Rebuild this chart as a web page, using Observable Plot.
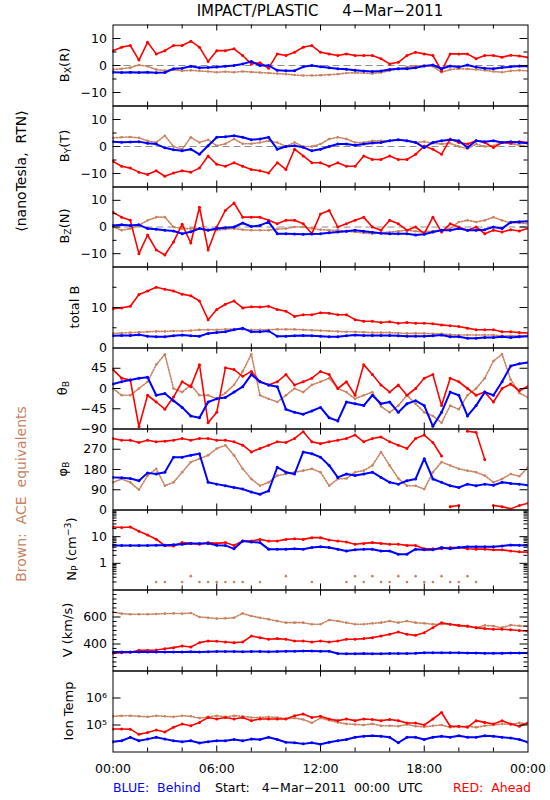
<!DOCTYPE html>
<html><head><meta charset="utf-8">
<script src="https://cdn.jsdelivr.net/npm/d3@7"></script>
<script src="https://cdn.jsdelivr.net/npm/@observablehq/plot@0.6"></script>
<style>
body{margin:0;background:#fff;}
#c{position:relative;width:550px;height:800px;font-family:"DejaVu Sans",sans-serif;color:#000;overflow:hidden;background:#fff}
#c svg{position:absolute;left:0;}
.t{position:absolute;white-space:pre;line-height:1;}
.rot{position:absolute;white-space:pre;line-height:1;transform:translate(-50%,-50%) rotate(-90deg);}
sub{font-size:0.72em;vertical-align:-0.3em;line-height:0}
sup{font-size:0.72em;vertical-align:0.45em;line-height:0}
</style></head><body><div id="c"></div>
<script>
// ---------- data (hours since 4-Mar-2011 00:00 UTC) ----------
const hours = [0,0.5,1,1.5,2,2.5,3,3.5,4,4.5,5,5.5,6,6.5,7,7.5,8,8.5,9,9.5,10,10.5,11,11.5,12,12.5,13,13.5,14,14.5,15,15.5,16,16.5,17,17.5,18,18.5,19,19.5,20,20.5,21,21.5,22,22.5,23,23.5,24];

const bxAhead  = [5.5,6.8,7.4,2,8.6,4.3,5.5,7.4,7.4,9,6.8,1.5,5.5,5.5,6.2,3.7,0.6,1,-1,4.3,3.7,4.9,6.8,7.4,4.9,4.3,3.7,4.3,3.7,3.7,3.7,2.5,0.6,1.2,3.7,4.9,4.3,3.7,-2,4.3,4.3,4.3,2.5,3.7,3.7,3.1,3.8,3.5,3.0];
const bxBehind = [-2.5,-2.6,-2.5,-2.6,-2.5,-2.7,-2.6,-1.2,-1,-0.3,-0.8,-0.7,-0.6,-0.3,0,0.6,1.5,0,0,-1.8,-1.9,-1.9,-0.5,0,-0.5,-0.8,-1.2,-1.4,-1.8,-2,-2.2,-2,-1.5,-1.2,-1.2,-0.8,-0.2,0.2,-1.2,-0.2,-0.6,0.2,-0.6,-1,-1.2,-0.7,-0.5,-0.2,-0.3];
const bxAce    = [-1.5,-1.2,-0.8,0.2,-0.3,-1.5,-1.9,-1.6,-2,-1.8,-2,-2.2,-2.5,-2.3,-2.5,-2.2,-2.4,-2.6,-2.8,-3,-3.2,-3.5,-3.7,-3.7,-3.6,-3.4,-3.2,-2.8,-2.7,-2.8,-3,-2.6,-1.9,-1.2,-0.6,-0.2,0,-0.3,-2.5,-1.5,-1.2,-1.3,-1.5,-1.8,-2.2,-2.5,-2,-1.8,-2];

const byAhead  = [-5.5,-7.3,-8,-9.5,-10.4,-9,-11,-9.8,-9,-9.5,-8,-3.5,-6.6,-7.3,-6,-7.3,-8.5,-9,-9.8,-6,-8.5,-1,-3.5,-6,-6,-7.3,-6,-7.3,-7.3,-3.5,-4.8,-4.8,-3.5,-4.8,-4.8,-2.9,0.2,-1,-2.9,2.8,1.5,0.9,2.1,1.5,-0.4,1.5,1.2,1.8,1.5];
const byBehind = [1.8,1.6,1.7,1.8,1.2,0.9,-0.5,-1.2,-1.6,-1,-2.9,0.3,3.4,3.6,4,3.4,2.5,2.8,3.4,-1,0,0.3,-0.3,-1.6,-1,0,0.9,0.9,0.5,0.9,1.3,1.5,2.1,2.5,2.1,1.5,-0.4,1.5,2.1,2.5,2.1,-0.4,2.1,1.8,2.1,1.5,1.8,1.5,1.2];
const byAce    = [3.2,3.4,3.5,3.2,2.1,1.5,4,0,-1,3.4,1.5,2.5,0.3,1,2.8,1,1,1.5,2.1,1.5,0,1.5,0,0,0.9,2.8,3.4,2.8,1.5,1.5,2.1,2.1,2.1,2.5,2.1,1.5,1.8,1.2,0.9,1.2,0,-0.8,0.9,0,0.3,1.5,1,0.5,0];

const bzAhead  = [5.5,3.7,2.5,-10,-3,-8.6,-10.5,-5.6,1,-6,7.4,-8.6,0,6.2,9,3.7,3.7,3.7,2.5,1.2,2.5,2.5,1.2,-2.5,4.9,6.2,0,1.2,2.5,3.7,0,-1.2,2.5,1.2,-1.2,0,-2.5,3.7,-1.9,1.2,0,-1.2,0,-2.5,-1.2,-1.9,-1,-1.5,-0.5];
const bzBehind = [0.6,0.8,0.6,0.8,-0.6,-0.8,-1.2,-1.5,-2.5,-1.8,-0.6,-1.2,-0.6,-0.3,0,1.5,0.2,0.6,1.9,-2.5,-2.5,-2.6,-2.7,-2.6,-2.5,-2.2,-1.9,-1.6,-1.2,-1.6,-2,-2.3,-2.5,-2.5,-2.5,-3,-2.7,-1.9,-1.2,-1.2,-0.6,-1.2,-1.2,-1,0,-0.6,1.8,2,2.2];
const bzAce    = [0,-1.2,-0.6,0.6,2.5,3.7,3.7,0,-0.6,-0.6,-0.6,-1,-1.2,-0.8,-0.6,-1,-1.2,-1.2,-1.2,-0.8,-0.6,0,0,-0.5,-1,-1.2,-1.2,-1.6,-1.9,-2.2,-2.5,-2.2,-1.9,-1.6,-1.2,-1.6,-1.9,-1.5,-1.2,-0.6,1.9,2.5,1.9,2.5,3.7,2.5,1.5,1.5,1.2];

const btAhead  = [9.7,9.9,10.3,13.2,14.1,15,14.5,14.1,13.3,12.9,11.6,7,9.5,10.8,11.6,9.9,10.2,10.1,10.3,9.5,9.1,7.8,8.2,8.2,8.7,8.6,8.2,8.2,7,6.6,6.6,6.3,6.5,6.1,6.3,6.1,6.1,6,5.7,5.5,5.3,4.9,4.5,4.5,4.5,4,4,3.8,3.7];
const btBehind = [3,3.1,3.1,3.3,2.9,2.8,2.8,3,3.2,3,2.9,3.6,3.8,4,4.5,4.9,4,4,4.2,2.9,2.9,3,3.1,3,2.9,2.8,2.8,3,3.2,3.1,3.1,3.1,3.1,3,2.9,2.9,2.9,3,3.2,2.8,2.8,2.4,2.4,2.6,2.6,2.8,2.6,2.8,2.9];
const btAce    = [3.6,3.7,3.8,3.9,4,4.1,4.1,4.2,4.2,4.3,4.5,4.5,4.5,4.6,4.7,4.6,4.5,4.5,4.5,4.6,4.6,4.6,4.5,4.4,4.3,4.2,4.1,4,4,3.9,3.8,3.8,3.8,3.7,3.6,3.6,3.6,3.5,3.5,3.3,3.2,3.2,3.2,3.2,3.2,3,3,3,3];

const thAhead  = [42,23,19,-85,-15,-30,-46,-19,15,4,53,-76,-53,46,42,27,38,15,8,15,31,8,15,23,38,31,0,15,-15,53,31,8,-8,8,-15,0,23,31,-38,23,15,0,-15,-8,-30,0,10,-5,5];
const thBehind = [10,15,19,23,25,-15,-11,-27,-42,-61,-65,-30,-23,-20,-8,4,31,15,8,4,-46,-53,-57,-50,-42,-65,-72,-30,-34,-38,-15,-34,-30,-53,-34,-27,-38,-84,-53,-8,-15,-61,-38,-8,-15,15,50,55,58];
const thAce    = [0,-15,-15,0,15,53,76,0,-8,8,-15,-15,-23,-10,8,38,76,-15,-23,-30,-15,0,-8,8,15,23,0,-8,-23,-15,-8,-40,-53,-38,-15,-34,-53,-61,-76,-38,-46,-15,0,23,61,76,20,-10,-20];

const phAhead  = [318,310,310,300,310,303,306,310,318,310,318,318,310,310,303,288,258,273,288,303,300,318,348,303,295,303,310,318,333,303,318,325,303,288,273,318,333,300,240,15,20,350,345,225,20,15,5,20,30];
const phBehind = [145,143,140,130,165,160,168,235,235,243,250,123,115,108,100,93,80,70,85,190,168,160,258,250,235,198,145,160,153,160,168,145,123,115,130,138,228,138,123,108,100,115,108,115,110,123,118,115,110];
const phAce    = [123,138,123,90,153,183,108,123,168,213,228,243,273,288,243,183,138,108,123,153,160,168,175,183,168,108,138,140,168,175,198,258,198,140,108,108,93,168,213,198,183,175,168,153,123,138,160,150,190];

const npAhead  = [23,22,23,16,11.5,8,4.6,4.5,6,5.6,5.2,6,5.6,6,4.7,6.9,6.9,7.9,6.9,6.9,7.9,8.4,7.9,9.2,9.2,7.5,6.9,6.3,5.2,5.6,6,5.6,5.2,5.2,4.7,4.7,3.5,3.5,3.5,3.9,3.9,3.5,3.4,3.4,3.2,3.2,2.9,2.7,2.6];
const npBehind = [4.7,4.7,4.7,4.7,4.7,4.8,4.8,5,5.2,5.6,5.6,5.6,4.8,4.7,3.5,6.9,6.3,6,3.4,3.4,3.4,3.5,3.4,3.9,4.2,3.9,3.4,2.9,3.2,3.4,3.4,2.9,2.9,2.2,2.2,3.4,3.2,3.2,3.9,3.5,3.9,4.2,4.2,4.2,4.2,4.5,4.9,4.8,4.7];
const npAce    = [null,null,null,null,null,0.2,0.2,null,0.2,0.33,0.2,0.2,0.2,0.2,0.2,0.2,null,0.2,null,null,0.33,null,null,0.2,null,null,null,0.2,0.33,0.2,0.33,0.2,0.2,0.33,0.2,0.33,0.2,0.2,0.33,0.2,0.2,0.33,0.2,null,null,null,null,null,0.2];

const vAhead   = [331,336,338,353,353,356,365,373,385,378,410,422,420,415,410,415,459,447,435,440,435,422,422,415,422,415,422,435,435,440,447,459,472,489,472,464,484,521,558,546,538,533,521,514,509,509,505,500,495];
const vBehind  = [340,340,341,341,340,341,340,340,341,342,340,342,345,345,344,343,345,344,343,345,346,347,348,348,347,346,330,328,328,329,328,328,329,330,330,331,335,336,335,336,335,334,333,332,332,332,333,333,333];
const vAce     = [637,625,620,620,620,622,625,627,625,630,600,595,588,590,595,627,607,595,583,570,558,558,558,546,546,578,570,558,546,546,553,558,570,558,570,558,553,546,546,546,533,528,521,538,533,521,540,535,530];

const tAhead   = [7.1e4,7.1e4,7e4,4.5e4,5.3e4,6.5e4,5.5e4,8.2e4,1.09e5,9.4e4,1.25e5,1.9e5,1.67e5,1.9e5,1.67e5,1.9e5,1.45e5,1.67e5,1.67e5,1.67e5,1.67e5,2.2e5,2.55e5,1.9e5,2.1e5,1.67e5,1.45e5,1.67e5,1.45e5,1.67e5,1.6e5,1.45e5,1.6e5,1.45e5,1.19e5,1.19e5,1e5,1.67e5,2.9e5,9e4,9e4,8.2e4,1.45e5,1.25e5,1.09e5,1.45e5,1.1e5,9e4,1.2e5];
const tBehind  = [2.4e4,2.6e4,3.5e4,2.6e4,3e4,3.5e4,3e4,2.6e4,2.4e4,2.6e4,2.15e4,2.4e4,2.6e4,2.6e4,2.9e4,2.6e4,3e4,2.9e4,3.5e4,2.9e4,2.3e4,2.2e4,2e4,2.2e4,1.93e4,2.3e4,2.6e4,2.9e4,3.5e4,3.8e4,4e4,3.8e4,3.5e4,2.2e4,3.5e4,3.5e4,2.9e4,3.5e4,3.8e4,3.5e4,4e4,3.5e4,3.5e4,4e4,3.8e4,3.5e4,3.3e4,2.9e4,2.3e4];
const tAce     = [2.1e5,2.2e5,2.2e5,2.1e5,2e5,2.2e5,2.1e5,2e5,2.2e5,2.1e5,1.8e5,2e5,2.2e5,2e5,2.2e5,2.1e5,1.9e5,1.9e5,2e5,1.9e5,1.7e5,1.8e5,1.6e5,1.2e5,1.8e5,1.5e5,1.25e5,1.1e5,1.05e5,1e5,1.1e5,9.4e4,9.4e4,9e4,1.05e5,9e4,8.5e4,9.4e4,1e5,8.2e4,8.5e4,9e4,8.2e4,9.4e4,1e5,1.1e5,1.05e5,1.2e5,1.1e5];

// ---------- tick values / labels ----------
const xMajor = [6, 12, 18];
const xMinor = [2, 4, 8, 10, 14, 16, 20, 22];
const xLabels = [0, 6, 12, 18, 24];
const bTicks = [-10, 0, 10], bMinor = [-5, 5];
const btTicks = [0, 10], btMajor = [10], btMinor = [5, 15];
const thLabels = [-90, -45, 0, 45], thMajor = [-45, 0, 45];
const phLabels = [0, 90, 180, 270], phMajor = [90, 180, 270];
const npTicks = [1, 10], npMinor = [0.2,0.3,0.4,0.5,0.6,0.7,0.8,0.9,2,3,4,5,6,7,8,9,20,30,40,50,60,70,80,90];
const vTicks = [400, 600], vMinor = [233,267,300,333,367,433,467,500,533,567,633,667,700,733,767];
const tTicks = [1e5, 1e6], tTickText = ["10\u2075", "10\u2076"];

// ---------- styling / layout ----------
const RED = "#ff0000", BLUE = "#0000ff", BROWN = "#c8825f";
const panelTops = [24, 105, 186, 266, 347, 428, 509, 589, 670, 751];
const ML = 112.5, MR = 22.5, W = 550 - ML - MR;
const minus = d => d < 0 ? "\u2212" + Math.abs(d) : String(d);

const panels = [
  {ahead: bxAhead, behind: bxBehind, ace: bxAce, domain: [-15, 15], labels: bTicks, major: bTicks, minor: bMinor, zero: true},
  {ahead: byAhead, behind: byBehind, ace: byAce, domain: [-15, 15], labels: bTicks, major: bTicks, minor: bMinor, zero: true},
  {ahead: bzAhead, behind: bzBehind, ace: bzAce, domain: [-15, 15], labels: bTicks, major: bTicks, minor: bMinor, zero: true},
  {ahead: btAhead, behind: btBehind, ace: btAce, domain: [0, 20], labels: btTicks, major: btMajor, minor: btMinor},
  {ahead: thAhead, behind: thBehind, ace: thAce, domain: [-90, 90], labels: thLabels, major: thMajor, minor: []},
  {ahead: phAhead, behind: phBehind, ace: phAce, domain: [0, 360], labels: phLabels, major: phMajor, minor: [], wrap: true},
  {ahead: npAhead, behind: npBehind, ace: npAce, domain: [0.1, 100], type: "log", labels: npTicks, major: npTicks, minor: npMinor, aceDots: true},
  {ahead: vAhead, behind: vBehind, ace: vAce, domain: [200, 800], labels: vTicks, major: vTicks, minor: vMinor},
  {ahead: tAhead, behind: tBehind, ace: tAce, domain: [1e4, 1e7], type: "log", labels: tTicks, major: tTicks, minor: [], fmt: d => tTickText[tTicks.indexOf(d)]}
];

const c = document.getElementById("c");

// segment ids that break a line where an angle wraps around 360
function wrapZ(vals) {
  let s = 0;
  return vals.map((v, k) => { if (k > 0 && vals[k-1] != null && v != null && Math.abs(v - vals[k-1]) > 180) s++; return s; });
}

panels.forEach((p, i) => {
  const top = panelTops[i], h = panelTops[i+1] - top;
  const last = i === panels.length - 1;
  const mt = 1.5, mb = last ? 30 : 1.5;
  const line = (vals, color, sw, dash) => Plot.line(hours, {
    x: d => d, y: vals, z: p.wrap ? wrapZ(vals) : null,
    stroke: color, strokeWidth: sw, strokeDasharray: dash, clip: true
  });
  const dots = (vals, color, r) => Plot.dot(hours, {x: d => d, y: vals, r, fill: color, stroke: null, clip: true});
  const marks = [];
  if (p.zero) marks.push(Plot.ruleY([0], {stroke: "#8c8c8c", strokeDasharray: "7,4", strokeWidth: 1}));
  if (!p.aceDots) marks.push(line(p.ace, BROWN, 1.6, "1.4,1.6"));
  marks.push(dots(p.ace, BROWN, 1.3));
  marks.push(line(p.ahead, RED, 1.6));
  marks.push(dots(p.ahead, RED, 1.5));
  marks.push(line(p.behind, BLUE, 2));
  marks.push(dots(p.behind, BLUE, 1.5));
  // inward ticks on all four sides
  marks.push(Plot.tickY(p.major, {insetRight: W - 8, stroke: "black"}));
  marks.push(Plot.tickY(p.major, {insetLeft: W - 8, stroke: "black"}));
  if (p.minor.length) {
    marks.push(Plot.tickY(p.minor, {insetRight: W - 4, stroke: "black"}));
    marks.push(Plot.tickY(p.minor, {insetLeft: W - 4, stroke: "black"}));
  }
  marks.push(Plot.tickX(xMajor, {insetBottom: h - 6, stroke: "black"}));
  marks.push(Plot.tickX(xMajor, {insetTop: h - 6, stroke: "black"}));
  marks.push(Plot.tickX(xMinor, {insetBottom: h - 4, stroke: "black"}));
  marks.push(Plot.tickX(xMinor, {insetTop: h - 4, stroke: "black"}));
  marks.push(Plot.frame({stroke: "black", strokeWidth: 1}));
  marks.push(Plot.axisY(p.labels, {anchor: "left", tickSize: 0, tickPadding: 6, label: null,
    tickFormat: p.fmt || minus, fontSize: 12.5}));
  if (last) {
    marks.push(Plot.axisX(xLabels, {anchor: "bottom", tickSize: 0, tickPadding: 12, label: null, fontSize: 12.5,
      tickFormat: d => String(d % 24).padStart(2, "0") + ":00"}));
  }
  const svg = Plot.plot({
    width: 550, height: h + mt + mb,
    marginLeft: ML, marginRight: MR, marginTop: mt, marginBottom: mb,
    x: {domain: [0, 24], axis: null},
    y: {domain: p.domain, type: p.type || "linear", axis: null},
    style: {fontFamily: "DejaVu Sans, sans-serif", fontSize: "12.5px", background: "transparent", overflow: "visible"},
    marks
  });
  svg.style.top = (top - 1) + "px";
  c.appendChild(svg);
});

// ---------- texts ----------
function addDiv(cls, html, css) {
  const d = document.createElement("div");
  d.className = cls; d.innerHTML = html;
  Object.assign(d.style, css);
  c.appendChild(d);
  return d;
}
const yLabels = [
  ["B<sub>X</sub>(R)", 64], ["B<sub>Y</sub>(T)", 64], ["B<sub>Z</sub>(N)", 64], ["total B", 74],
  ["\u03b8<sub>B</sub>", 62], ["\u03c6<sub>B</sub>", 62], ["N<sub>P</sub> (cm<sup>\u22123</sup>)", 71],
  ["V (km/s)", 67], ["Ion Temp", 68]
];
yLabels.forEach(([txt, x], i) => {
  addDiv("rot", txt, {left: x + "px", top: ((panelTops[i] + panelTops[i+1]) / 2) + "px", fontSize: "13px"});
});
addDiv("rot", "\u27e8nanoTesla,  RTN\u27e9", {left: "21px", top: "171px", fontSize: "14px"});
addDiv("rot", "Brown:  ACE  equivalents", {left: "21px", top: "494px", fontSize: "14px", color: BROWN});
addDiv("t", "IMPACT/PLASTIC     4\u2212Mar\u22122011", {left: "320px", top: "4px", fontSize: "15px", transform: "translateX(-50%)"});
addDiv("t", "BLUE:  Behind", {left: "113px", top: "782px", fontSize: "12.5px", color: BLUE});
addDiv("t", "Start:   4\u2212Mar\u22122011  00:00  UTC", {left: "215px", top: "782px", fontSize: "12.5px"});
addDiv("t", "RED:  Ahead", {right: "19px", top: "782px", fontSize: "12.5px", color: RED});
</script>
</body></html>
